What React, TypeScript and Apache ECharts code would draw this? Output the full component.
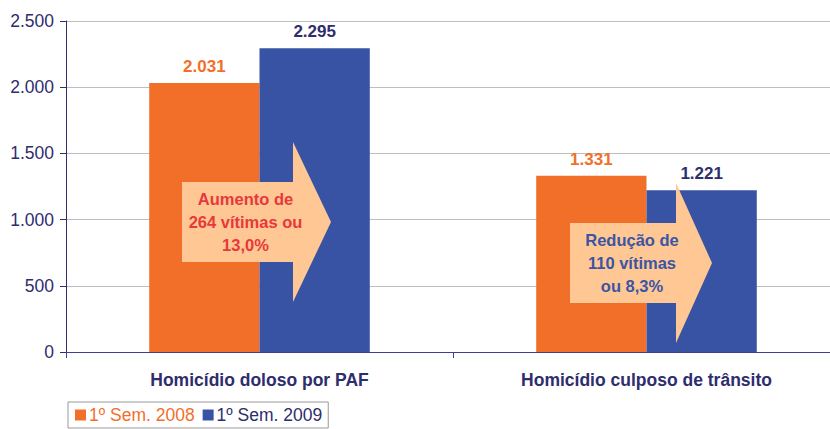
import React, { useEffect, useRef } from "react";
import * as echarts from "echarts";

const categories = ["Homicídio doloso por PAF", "Homicídio culposo de trânsito"];
const series2008 = [2031, 1331];
const series2009 = [2295, 1221];
const seriesNames = ["1º Sem. 2008", "1º Sem. 2009"];
const yTicks = [0, 500, 1000, 1500, 2000, 2500];
const arrowTexts = ["Aumento de\n264 vítimas ou\n13,0%", "Redução de\n110 vítimas\nou 8,3%"];

const ORANGE = "#F26F2A";
const BLUE = "#3953A4";
const NAVY = "#2E2D6E";
const PEACH = "#FEC793";
const FONT = "Liberation Sans";
const FS = 17;

const fmt = (v: number) => v.toLocaleString("de-DE");

function arrow(x0: number, y0: number, y1: number, xh: number, hTop: number, tip: number, text: string, color: string, dx: number) {
  const cy = (y0 + y1) / 2;
  return [
    {
      type: "polygon",
      shape: {
        points: [
          [x0, y0], [xh, y0], [xh, hTop], [tip, cy], [xh, 2 * cy - hTop], [xh, y1], [x0, y1],
        ],
      },
      style: { fill: PEACH },
      z: 100,
    },
    {
      type: "text",
      x: (x0 + xh) / 2 + dx,
      y: cy,
      style: {
        text,
        fill: color,
        fontFamily: FONT,
        fontSize: 16.5,
        fontWeight: "bold",
        align: "center",
        verticalAlign: "middle",
        lineHeight: 23,
      },
      z: 101,
    },
  ];
}

export default function App() {
  const ref = useRef<HTMLDivElement>(null);
  useEffect(() => {
    if (!ref.current) return;
    const chart = echarts.init(ref.current, undefined, { renderer: "svg" });
    chart.setOption({
      animation: false,
      textStyle: { fontFamily: FONT },
      grid: { left: 66, right: 0, top: 21, bottom: 77 },
      legend: {
        left: 68,
        top: 402,
        padding: [4, 6, 4, 7],
        borderColor: "#999999",
        borderWidth: 1,
        itemWidth: 11,
        itemHeight: 11,
        itemGap: 8,
        icon: "rect",
        textStyle: { fontSize: 17.5, fontFamily: FONT, padding: [0, 0, 0, -2] },
        data: [
          { name: seriesNames[0], textStyle: { color: ORANGE, fontFamily: FONT, fontSize: 17.5 } },
          { name: seriesNames[1], textStyle: { color: NAVY, fontFamily: FONT, fontSize: 17.5 } },
        ],
      },
      xAxis: {
        type: "category",
        data: categories,
        axisLine: { lineStyle: { color: "#3F3F96", width: 1 } },
        axisTick: { show: true, length: 6, lineStyle: { color: "#3F3F96" } },
        axisLabel: { color: NAVY, fontSize: 17.5, fontWeight: "bold", fontFamily: FONT, margin: 19 },
      },
      yAxis: {
        type: "value",
        min: yTicks[0],
        max: yTicks[yTicks.length - 1],
        interval: 500,
        axisLine: { show: true, lineStyle: { color: "#2E2D6E", width: 1 } },
        axisTick: { show: true, length: 6, lineStyle: { color: "#2E2D6E" } },
        axisLabel: { color: NAVY, fontSize: 17.5, fontFamily: FONT, margin: 12, formatter: (v: number) => fmt(v) },
        splitLine: { lineStyle: { color: "#BDBDBD", width: 1 } },
      },
      series: [
        {
          name: seriesNames[0],
          type: "bar",
          data: series2008,
          itemStyle: { color: ORANGE },
          barGap: "0%",
          barCategoryGap: "43%",
          label: {
            show: true,
            position: "top",
            distance: 8,
            color: ORANGE,
            fontSize: FS,
            fontWeight: "bold",
            fontFamily: FONT,
            formatter: (p: any) => fmt(p.value),
          },
        },
        {
          name: seriesNames[1],
          type: "bar",
          data: series2009,
          itemStyle: { color: BLUE },
          barGap: "0%",
          barCategoryGap: "43%",
          label: {
            show: true,
            position: "top",
            distance: 8,
            color: NAVY,
            fontSize: FS,
            fontWeight: "bold",
            fontFamily: FONT,
            formatter: (p: any) => fmt(p.value),
          },
        },
      ],
      graphic: [
        ...arrow(182, 182, 262, 293, 142, 331, arrowTexts[0], "#E8383B", 8),
        ...arrow(570, 223, 303, 676, 183, 712, arrowTexts[1], "#3B55A5", 9),
      ],
    });
    return () => chart.dispose();
  }, []);
  return (
    <div style={{ position: "absolute", left: 0, top: 0, width: 830, height: 429, overflow: "hidden", background: "#fff" }}>
      <div ref={ref} style={{ width: 840, height: 429 }} />
    </div>
  );
}
